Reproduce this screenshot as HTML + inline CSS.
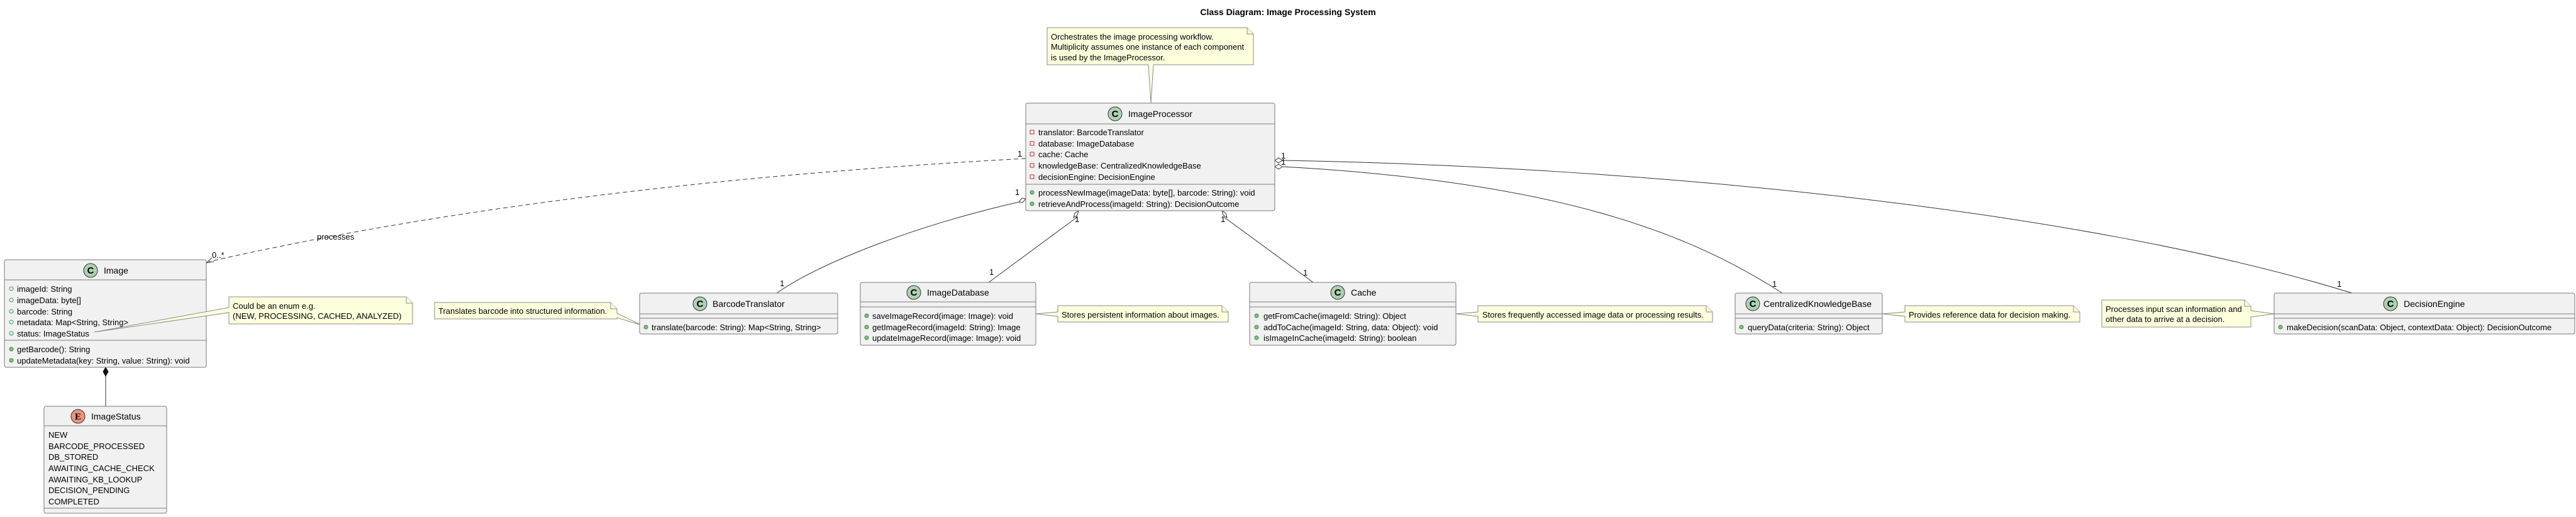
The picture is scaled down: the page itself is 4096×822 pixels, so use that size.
<!DOCTYPE html>
<html><head><meta charset="utf-8"><style>
html,body{margin:0;padding:0;background:#fff;}
svg{display:block;}
text{font-family:"Liberation Sans",sans-serif;font-size:13px;fill:#000;}
.box{fill:#F1F1F1;stroke:#7a7a7a;stroke-width:1;}
.dv{stroke:#7a7a7a;stroke-width:1;}
.note{fill:#FEFFDD;stroke:#8a8a8a;stroke-width:1;}
.ln{fill:none;stroke:#333;stroke-width:1;}
.ci{fill:#ADD1B2;stroke:#333;stroke-width:1;}
.ce{fill:#EB937F;stroke:#333;stroke-width:1;}
.ic{font-size:15px;font-weight:bold;text-anchor:middle;}
.nm{font-size:14px;}
.po{fill:none;stroke:#3a9a5a;stroke-width:1;}
.pf{fill:#84BE84;stroke:#3a8a4a;stroke-width:1;}
.pr{fill:none;stroke:#C82930;stroke-width:1;}
</style></head><body>
<svg width="4096" height="822" xmlns="http://www.w3.org/2000/svg">
<text x="2048" y="24" text-anchor="middle" style="font-weight:bold;font-size:14px">Class Diagram: Image Processing System</text>

<path class="ln" d="M1631,252 C1300,270 800,310 332,416" stroke-dasharray="7,5"/>
<path class="ln" d="M328,418 l12,-2 M328,418 l9,-8"/>
<text x="504" y="381">processes</text>
<text x="1618" y="249">1</text>
<text x="337" y="410">0..*</text>

<path class="ln" d="M1621,321 C1450,360 1300,420 1235,466"/>
<path d="M1631,316 l-6,-1 l-5,6 l6,1 z" fill="#fff" stroke="#333"/>
<text x="1614" y="310">1</text>
<text x="1240" y="455">1</text>

<path class="ln" d="M1713,345 L1572,449"/>
<path d="M1715,335 l-6,4 l-2,7 l6,-4 z" fill="#fff" stroke="#333"/>
<text x="1709" y="353">1</text>
<text x="1573" y="437">1</text>

<path class="ln" d="M1946,345 L2088,449"/>
<path d="M1943,335 l6,4 l2,7 l-6,-4 z" fill="#fff" stroke="#333"/>
<text x="1941" y="353">1</text>
<text x="2072" y="438">1</text>

<path class="ln" d="M2039,255 C2600,265 3300,330 3740,466"/>
<path d="M2027,255 l6,-4 l6,4 l-6,4 z" fill="#fff" stroke="#333"/>
<path class="ln" d="M2039,265 C2500,290 2700,380 2834,466"/>
<path d="M2027,265 l6,-4 l6,4 l-6,4 z" fill="#fff" stroke="#333"/>
<text x="2037" y="252">1</text>
<text x="2037" y="262">1</text>
<text x="2818" y="456">1</text>
<text x="3716" y="456">1</text>

<path class="ln" d="M168,598 L168,646"/>
<path d="M168,584 l4,7 l-4,7 l-4,-7 z" fill="#111" stroke="#111"/>

<path class="note" d="M1665,44 H1983 L1993,54 V103 H1834 L1830,164 L1826,103 H1665 Z"/>
<path class="note" d="M1983,44 V54 H1993" fill="none"/>
<text x="1671" y="63">Orchestrates the image processing workflow.</text>
<text x="1671" y="79">Multiplicity assumes one instance of each component</text>
<text x="1671" y="96">is used by the ImageProcessor.</text>

<rect class="box" x="1631" y="164" width="396" height="171" rx="3"/>
<line class="dv" x1="1631" y1="197" x2="2027" y2="197"/>
<line class="dv" x1="1631" y1="293" x2="2027" y2="293"/>
<circle class="ci" cx="1773" cy="181" r="11"/><text class="ic" x="1773" y="186">C</text>
<text class="nm" x="1794" y="186">ImageProcessor</text>
<rect class="pr" x="1638" y="207" width="6" height="6"/><text x="1651" y="215">translator: BarcodeTranslator</text>
<rect class="pr" x="1638" y="225" width="6" height="6"/><text x="1651" y="233">database: ImageDatabase</text>
<rect class="pr" x="1638" y="242" width="6" height="6"/><text x="1651" y="250">cache: Cache</text>
<rect class="pr" x="1638" y="260" width="6" height="6"/><text x="1651" y="268">knowledgeBase: CentralizedKnowledgeBase</text>
<rect class="pr" x="1638" y="278" width="6" height="6"/><text x="1651" y="286">decisionEngine: DecisionEngine</text>
<circle class="pf" cx="1641" cy="306" r="3"/><text x="1651" y="311">processNewImage(imageData: byte[], barcode: String): void</text>
<circle class="pf" cx="1641" cy="324" r="3"/><text x="1651" y="329">retrieveAndProcess(imageId: String): DecisionOutcome</text>

<rect class="box" x="7" y="413" width="321" height="171" rx="3"/>
<line class="dv" x1="7" y1="445" x2="328" y2="445"/>
<line class="dv" x1="7" y1="541" x2="328" y2="541"/>
<circle class="ci" cx="144" cy="430" r="11"/><text class="ic" x="144" y="435">C</text>
<text class="nm" x="165" y="435">Image</text>
<circle class="po" cx="18" cy="459" r="3"/><text x="27" y="464">imageId: String</text>
<circle class="po" cx="18" cy="477" r="3"/><text x="27" y="482">imageData: byte[]</text>
<circle class="po" cx="18" cy="495" r="3"/><text x="27" y="500">barcode: String</text>
<circle class="po" cx="18" cy="512" r="3"/><text x="27" y="517">metadata: Map&lt;String, String&gt;</text>
<circle class="po" cx="18" cy="530" r="3"/><text x="27" y="535">status: ImageStatus</text>
<circle class="pf" cx="18" cy="555" r="3"/><text x="27" y="560">getBarcode(): String</text>
<circle class="pf" cx="18" cy="573" r="3"/><text x="27" y="578">updateMetadata(key: String, value: String): void</text>

<path class="note" d="M364,472 H646 L656,482 V515 H364 V497 L150,528 L364,489 Z"/>
<path class="note" d="M646,472 V482 H656" fill="none"/>
<text x="370" y="491">Could be an enum e.g.</text>
<text x="370" y="507">(NEW, PROCESSING, CACHED, ANALYZED)</text>

<rect class="box" x="70" y="646" width="195" height="170" rx="3"/>
<line class="dv" x1="70" y1="677" x2="265" y2="677"/>
<line class="dv" x1="70" y1="808" x2="265" y2="808"/>
<circle class="ce" cx="124" cy="662" r="11"/><text class="ic" x="124" y="667" style="font-family:'Liberation Serif',serif">E</text>
<text class="nm" x="145" y="667">ImageStatus</text>
<text x="77" y="696">NEW</text>
<text x="77" y="714">BARCODE_PROCESSED</text>
<text x="77" y="731">DB_STORED</text>
<text x="77" y="749">AWAITING_CACHE_CHECK</text>
<text x="77" y="767">AWAITING_KB_LOOKUP</text>
<text x="77" y="784">DECISION_PENDING</text>
<text x="77" y="802">COMPLETED</text>

<path class="note" d="M691,481 H971 L981,491 V498 L1020,517 L981,505 V507 H691 Z"/>
<path class="note" d="M971,481 V491 H981" fill="none"/>
<text x="697" y="499">Translates barcode into structured information.</text>

<rect class="box" x="1017" y="466" width="315" height="65" rx="3"/>
<line class="dv" x1="1017" y1="499" x2="1332" y2="499"/>
<line class="dv" x1="1017" y1="506" x2="1332" y2="506"/>
<circle class="ci" cx="1113" cy="483" r="11"/><text class="ic" x="1113" y="488">C</text>
<text class="nm" x="1133" y="488">BarcodeTranslator</text>
<circle class="pf" cx="1027" cy="520" r="3"/><text x="1036" y="525">translate(barcode: String): Map&lt;String, String&gt;</text>

<rect class="box" x="1368" y="449" width="279" height="100" rx="3"/>
<line class="dv" x1="1368" y1="480" x2="1647" y2="480"/>
<line class="dv" x1="1368" y1="488" x2="1647" y2="488"/>
<circle class="ci" cx="1453" cy="465" r="11"/><text class="ic" x="1453" y="470">C</text>
<text class="nm" x="1474" y="470">ImageDatabase</text>
<circle class="pf" cx="1378" cy="502" r="3"/><text x="1387" y="507">saveImageRecord(image: Image): void</text>
<circle class="pf" cx="1378" cy="520" r="3"/><text x="1387" y="525">getImageRecord(imageId: String): Image</text>
<circle class="pf" cx="1378" cy="537" r="3"/><text x="1387" y="542">updateImageRecord(image: Image): void</text>

<path class="note" d="M1682,486 H1943 L1953,496 V512 H1682 V503 L1647,499 L1682,496 Z"/>
<path class="note" d="M1943,486 V496 H1953" fill="none"/>
<text x="1688" y="505">Stores persistent information about images.</text>

<rect class="box" x="1987" y="449" width="328" height="100" rx="3"/>
<line class="dv" x1="1987" y1="480" x2="2315" y2="480"/>
<line class="dv" x1="1987" y1="488" x2="2315" y2="488"/>
<circle class="ci" cx="2127" cy="465" r="11"/><text class="ic" x="2127" y="470">C</text>
<text class="nm" x="2148" y="470">Cache</text>
<circle class="pf" cx="1998" cy="502" r="3"/><text x="2009" y="507">getFromCache(imageId: String): Object</text>
<circle class="pf" cx="1998" cy="520" r="3"/><text x="2009" y="525">addToCache(imageId: String, data: Object): void</text>
<circle class="pf" cx="1998" cy="537" r="3"/><text x="2009" y="542">isImageInCache(imageId: String): boolean</text>

<path class="note" d="M2350,486 H2713 L2723,496 V512 H2350 V503 L2315,499 L2350,496 Z"/>
<path class="note" d="M2713,486 V496 H2723" fill="none"/>
<text x="2357" y="505">Stores frequently accessed image data or processing results.</text>

<rect class="box" x="2759" y="466" width="234" height="65" rx="3"/>
<line class="dv" x1="2759" y1="499" x2="2993" y2="499"/>
<line class="dv" x1="2759" y1="506" x2="2993" y2="506"/>
<circle class="ci" cx="2787" cy="483" r="11"/><text class="ic" x="2787" y="488">C</text>
<text class="nm" x="2804" y="488">CentralizedKnowledgeBase</text>
<circle class="pf" cx="2769" cy="520" r="3"/><text x="2779" y="525">queryData(criteria: String): Object</text>

<path class="note" d="M3029,486 H3297 L3307,496 V512 H3029 V503 L2993,499 L3029,496 Z"/>
<path class="note" d="M3297,486 V496 H3307" fill="none"/>
<text x="3035" y="505">Provides reference data for decision making.</text>

<path class="note" d="M3342,477 H3569 L3579,487 V494 L3616,499 L3579,504 V520 H3342 Z"/>
<path class="note" d="M3569,477 V487 H3579" fill="none"/>
<text x="3348" y="496">Processes input scan information and</text>
<text x="3348" y="512">other data to arrive at a decision.</text>

<rect class="box" x="3616" y="466" width="478" height="65" rx="3"/>
<line class="dv" x1="3616" y1="499" x2="4094" y2="499"/>
<line class="dv" x1="3616" y1="506" x2="4094" y2="506"/>
<circle class="ci" cx="3801" cy="483" r="11"/><text class="ic" x="3801" y="488">C</text>
<text class="nm" x="3822" y="488">DecisionEngine</text>
<circle class="pf" cx="3626" cy="520" r="3"/><text x="3636" y="525">makeDecision(scanData: Object, contextData: Object): DecisionOutcome</text>
</svg>
</body></html>
